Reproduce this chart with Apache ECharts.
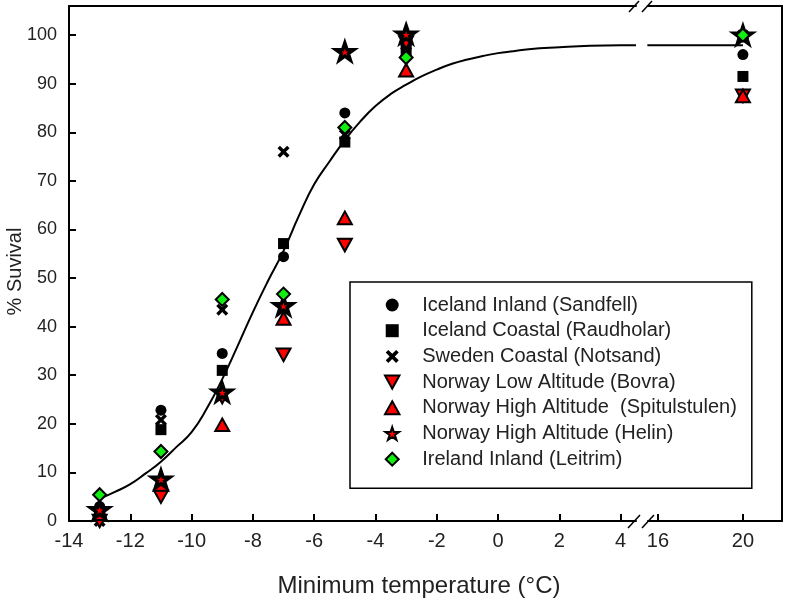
<!DOCTYPE html>
<html>
<head>
<meta charset="utf-8">
<script src="https://cdn.jsdelivr.net/npm/echarts@6/dist/echarts.min.js"></script>
<style>html,body{margin:0;padding:0;background:#fff}#c{width:787px;height:604px}</style>
</head>
<body>
<div id="c"></div>
<script>
// ---- data ----
const tempsLeft = [-13, -11, -9, -7, -5, -3];
const tempsRight = [20];
const sandfellLeft = [3, 22.8, 34.5, 54.4, 84, 98];
const sandfellRight = [96];
const raudholarLeft = [2, 18.8, 31, 57.1, 78, 97];
const raudholarRight = [91.5];
const notsandLeft = [0, 20.8, 43.5, 76, 79.5, 96.5];
const notsandRight = [100];
const bovraLeft = [0, 5, 25.5, 34.2, 56.8, 98.5];
const bovraRight = [87.5];
const spitLeft = [1.5, 7.5, 19.8, 41.7, 62.4, 92.8];
const spitRight = [87.5];
const helinLeft = [2.3, 8.6, 26.5, 44.3, 96.6, 100.2];
const helinRight = [100];
const leitrimLeft = [5.4, 14.3, 45.6, 46.7, 81, 95.4];
const leitrimRight = [100];

const curveX = [-13,-12.5,-12,-11.5,-11,-10.5,-10,-9.5,-9,-8.5,-8,-7.5,-7,-6.5,-6,-5.5,-5,-4.5,-4,-3.5,-3,-2.5,-2,-1.5,-1,-0.5,0,0.5,1,2,3,4,4.5];
const curveY = [4.6,6.0,7.6,9.8,12.2,15.2,18.3,23.2,29.2,36,43,49.5,55.6,62.8,69.3,74,78.4,82.2,85.4,87.9,89.8,91.5,92.9,94.1,95,95.7,96.3,96.7,97.1,97.5,97.8,97.9,97.9];
const curveRightX = [15.5, 20];
const curveRightY = [97.9, 97.9];

const xTicksLeft = [-14,-12,-10,-8,-6,-4,-2,0,2,4];
const xTicksRight = [16, 20];
const yTicks = [0,10,20,30,40,50,60,70,80,90,100];

const names = [
  'Iceland Inland (Sandfell)',
  'Iceland Coastal (Raudholar)',
  'Sweden Coastal (Notsand)',
  'Norway Low Altitude (Bovra)',
  'Norway High Altitude  (Spitulstulen)',
  'Norway High Altitude (Helin)',
  'Ireland Inland (Leitrim)'
];
// ---------------------------------------

const zip = (xs, ys) => xs.map((x, i) => [x, ys[i]]);
const FONT = 'Liberation Sans, Arial, sans-serif';
const crossPath = 'path://M2,0 L5,3 L8,0 L10,2 L7,5 L10,8 L8,10 L5,7 L2,10 L0,8 L3,5 L0,2 Z';
const squarePath = 'path://M0,0 L10,0 L10,10 L0,10 Z';
const diamondPath = 'path://M5,0 L10,5 L5,10 L0,5 Z';
const downTri = 'path://M0,0 L10,0 L5,9 Z';
const upTri = 'path://M5,0 L10,9 L0,9 Z';
const starPath = 'path://M50,0 L61.8,35.4 L99,35.4 L69,57.3 L80.4,92.7 L50,70.8 L19.6,92.7 L31,57.3 L1,35.4 L38.2,35.4 Z';

const styles = [
  {symbol: 'circle', symbolSize: 11, itemStyle: {color: '#000', opacity: 1}},
  {symbol: squarePath, symbolSize: 11, itemStyle: {color: '#000', opacity: 1}},
  {symbol: crossPath, symbolSize: 12, itemStyle: {color: '#000', opacity: 1}},
  {symbol: downTri, symbolSize: 14, itemStyle: {color: '#ff0000', borderColor: '#000', borderWidth: 2, opacity: 1}},
  {symbol: upTri, symbolSize: 14, itemStyle: {color: '#ff0000', borderColor: '#000', borderWidth: 2, opacity: 1}},
  {symbol: starPath, symbolSize: 18, itemStyle: {color: '#ff0000', borderColor: '#000', borderWidth: 3.5, opacity: 1}},
  {symbol: diamondPath, symbolSize: 13, itemStyle: {color: '#11ee11', borderColor: '#000', borderWidth: 2, opacity: 1}}
];
const leftData = [sandfellLeft, raudholarLeft, notsandLeft, bovraLeft, spitLeft, helinLeft, leitrimLeft];
const rightData = [sandfellRight, raudholarRight, notsandRight, bovraRight, spitRight, helinRight, leitrimRight];

const series = [
  {type: 'line', name: 'fit', xAxisIndex: 0, yAxisIndex: 0, data: zip(curveX, curveY), smooth: true, showSymbol: false, symbol: 'none', lineStyle: {color: '#000', width: 2}, z: 1, silent: true},
  {type: 'line', name: 'fit', xAxisIndex: 1, yAxisIndex: 1, data: zip(curveRightX, curveRightY), showSymbol: false, symbol: 'none', lineStyle: {color: '#000', width: 2}, z: 1, silent: true}
];
names.forEach((n, i) => {
  series.push(Object.assign({type: 'scatter', name: n, xAxisIndex: 0, yAxisIndex: 0, symbolKeepAspect: true, data: zip(tempsLeft, leftData[i]), z: 2 + i}, styles[i]));
  series.push(Object.assign({type: 'scatter', name: n, xAxisIndex: 1, yAxisIndex: 1, symbolKeepAspect: true, data: zip(tempsRight, rightData[i]), z: 2 + i}, styles[i]));
});

const axisLine = {show: true, onZero: false, lineStyle: {color: '#000', width: 2}};

const chart = echarts.init(document.getElementById('c'), null, {renderer: 'canvas'});
chart.setOption({
  animation: false,
  backgroundColor: '#fff',
  grid: [
    {left: 69, top: 6, width: 567, height: 515, containLabel: false, outerBoundsMode: 'none'},
    {left: 648, top: 6, width: 134, height: 515, containLabel: false, outerBoundsMode: 'none'}
  ],
  xAxis: [
    {type: 'value', gridIndex: 0, min: -14, max: 4.5, position: 'bottom',
     axisLine: axisLine, splitLine: {show: false},
     axisTick: {inside: true, length: 7, lineStyle: {color: '#000', width: 2}, customValues: xTicksLeft},
     axisLabel: {margin: 10, customValues: xTicksLeft, color: '#222', fontSize: 20, fontFamily: FONT},
     name: 'Minimum temperature (°C)', nameLocation: 'middle', nameGap: 53,
     nameTextStyle: {color: '#222', fontSize: 24, fontFamily: FONT, padding: [0, 0, 0, 133]}},
    {type: 'value', gridIndex: 1, min: 15.53, max: 21.84, position: 'bottom',
     axisLine: axisLine, splitLine: {show: false},
     axisTick: {inside: true, length: 7, lineStyle: {color: '#000', width: 2}, customValues: xTicksRight},
     axisLabel: {margin: 10, customValues: xTicksRight, color: '#222', fontSize: 20, fontFamily: FONT}},
    {type: 'value', gridIndex: 0, min: -14, max: 4.5, position: 'top',
     axisLine: axisLine, axisTick: {show: false}, axisLabel: {show: false}, splitLine: {show: false}},
    {type: 'value', gridIndex: 1, min: 15.53, max: 21.84, position: 'top',
     axisLine: axisLine, axisTick: {show: false}, axisLabel: {show: false}, splitLine: {show: false}}
  ],
  yAxis: [
    {type: 'value', gridIndex: 0, min: 0, max: 106, position: 'left',
     axisLine: axisLine, splitLine: {show: false},
     axisTick: {inside: true, length: 7, lineStyle: {color: '#000', width: 2}, customValues: yTicks},
     axisLabel: {margin: 12, customValues: yTicks, color: '#222', fontSize: 18, fontFamily: FONT},
     name: '% Suvival', nameLocation: 'middle', nameGap: 44, nameMoveOverlap: false,
     nameTextStyle: {color: '#222', fontSize: 20, fontFamily: FONT, padding: [0, 16, 0, 0]}},
    {type: 'value', gridIndex: 1, min: 0, max: 106, position: 'right',
     axisLine: axisLine, axisTick: {show: false}, axisLabel: {show: false}, splitLine: {show: false}}
  ],
  legend: {
    data: names, orient: 'vertical', left: 350, top: 282,
    itemWidth: 50, itemHeight: 13, itemGap: 5.7,
    symbolKeepAspect: true,
    padding: [13, 15, 19, 34],
    borderColor: '#000', borderWidth: 1.5, backgroundColor: '#fff',
    textStyle: {color: '#222', fontSize: 20, fontFamily: FONT},
    selectedMode: false
  },
  graphic: [
    {type: 'line', shape: {x1: 628, y1: 528, x2: 640, y2: 515}, style: {stroke: '#000', lineWidth: 1.5}},
    {type: 'line', shape: {x1: 642, y1: 528, x2: 654, y2: 515}, style: {stroke: '#000', lineWidth: 1.5}},
    {type: 'line', shape: {x1: 629, y1: 12, x2: 639, y2: 1}, style: {stroke: '#000', lineWidth: 1.5}},
    {type: 'line', shape: {x1: 642, y1: 12, x2: 652, y2: 1}, style: {stroke: '#000', lineWidth: 1.5}}
  ],
  series: series
});
</script>
</body>
</html>
